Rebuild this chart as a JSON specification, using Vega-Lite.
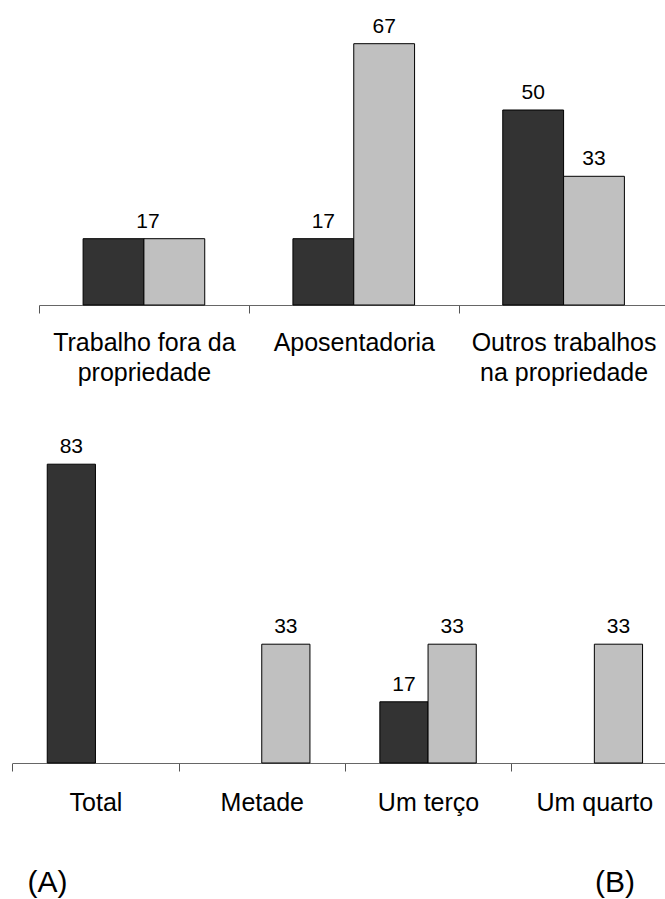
{
  "$schema": "https://vega.github.io/schema/vega-lite/v6.json",
  "width": 665,
  "height": 899,
  "padding": 0,
  "autosize": {"type": "none"},
  "background": "white",
  "config": {
    "view": {"stroke": null},
    "font": "Liberation Sans",
    "axis": {
      "domainColor": "#666666",
      "domainWidth": 1,
      "tickColor": "#555555",
      "tickWidth": 1,
      "tickSize": 8,
      "grid": false,
      "labelFont": "Liberation Sans",
      "labelFontSize": 25,
      "labelColor": "#000000",
      "labelAngle": 0,
      "labelOverlap": false,
      "labelLimit": 0,
      "labelLineHeight": 30,
      "title": null
    }
  },
  "datasets": {
    "fonte_renda": [
      {"categoria": "Trabalho fora da propriedade", "grupo": "Grupo 1", "valor": 17},
      {"categoria": "Trabalho fora da propriedade", "grupo": "Grupo 2", "valor": 17},
      {"categoria": "Aposentadoria", "grupo": "Grupo 1", "valor": 17},
      {"categoria": "Aposentadoria", "grupo": "Grupo 2", "valor": 67},
      {"categoria": "Outros trabalhos na propriedade", "grupo": "Grupo 1", "valor": 50},
      {"categoria": "Outros trabalhos na propriedade", "grupo": "Grupo 2", "valor": 33}
    ],
    "parcela": [
      {"categoria": "Total", "grupo": "Grupo 1", "valor": 83},
      {"categoria": "Metade", "grupo": "Grupo 2", "valor": 33},
      {"categoria": "Um terço", "grupo": "Grupo 1", "valor": 17},
      {"categoria": "Um terço", "grupo": "Grupo 2", "valor": 33},
      {"categoria": "Um quarto", "grupo": "Grupo 2", "valor": 33}
    ],
    "paineis": [
      {"painel": "(A)"},
      {"painel": "(B)"}
    ]
  },
  "layer": [
    {
      "data": {"name": "fonte_renda"},
      "transform": [
        {"joinaggregate": [{"op": "count", "as": "iguais"}], "groupby": ["categoria", "valor"]}
      ],
      "encoding": {
        "x": {
          "field": "categoria",
          "type": "nominal",
          "sort": null,
          "scale": {"range": [39, 668.5], "paddingInner": 0, "paddingOuter": 0},
          "axis": {
            "orient": "bottom",
            "offset": -594,
            "tickBand": "extent",
            "labelPadding": 17,
            "labelExpr": "datum.label == 'Trabalho fora da propriedade' ? ['Trabalho fora da', 'propriedade'] : datum.label == 'Outros trabalhos na propriedade' ? ['Outros trabalhos', 'na propriedade'] : datum.label"
          }
        },
        "y": {
          "field": "valor",
          "type": "quantitative",
          "scale": {"domain": [0, 70], "range": [305, 32], "nice": false, "zero": true},
          "axis": null
        }
      },
      "layer": [
        {
          "mark": {"type": "bar", "stroke": "#000000", "strokeWidth": 1},
          "encoding": {
            "xOffset": {
              "field": "grupo",
              "type": "nominal",
              "scale": {"domain": ["Grupo 1", "Grupo 2"], "paddingInner": 0, "paddingOuter": 0.725}
            },
            "color": {
              "field": "grupo",
              "type": "nominal",
              "scale": {"domain": ["Grupo 1", "Grupo 2"], "range": ["#333333", "#c0c0c0"]},
              "legend": null
            }
          }
        },
        {
          "transform": [{"filter": "datum.iguais == 1"}],
          "mark": {"type": "text", "baseline": "alphabetic", "dy": -11, "fontSize": 21, "font": "Liberation Sans", "color": "#000000"},
          "encoding": {
            "xOffset": {"field": "grupo", "type": "nominal"},
            "text": {"field": "valor", "type": "quantitative", "format": "d"}
          }
        },
        {
          "transform": [{"filter": "datum.iguais > 1 && datum.grupo == 'Grupo 1'"}],
          "mark": {"type": "text", "baseline": "alphabetic", "dy": -11, "dx": 4, "fontSize": 21, "font": "Liberation Sans", "color": "#000000"},
          "encoding": {
            "text": {"field": "valor", "type": "quantitative", "format": "d"}
          }
        }
      ]
    },
    {
      "data": {"name": "parcela"},
      "encoding": {
        "x": {
          "field": "categoria",
          "type": "nominal",
          "sort": ["Total", "Metade", "Um terço", "Um quarto"],
          "scale": {"range": [12.3, 677.5], "paddingInner": 0, "paddingOuter": 0},
          "axis": {
            "orient": "bottom",
            "offset": -136,
            "tickBand": "extent",
            "labelPadding": 19
          }
        },
        "xOffset": {
          "field": "grupo",
          "type": "nominal",
          "scale": {"domain": ["Grupo 1", "Grupo 2"], "paddingInner": 0, "paddingOuter": 0.725}
        },
        "y": {
          "field": "valor",
          "type": "quantitative",
          "scale": {"domain": [0, 90], "range": [763, 439], "nice": false, "zero": true},
          "axis": null
        }
      },
      "layer": [
        {
          "mark": {"type": "bar", "stroke": "#000000", "strokeWidth": 1},
          "encoding": {
            "color": {
              "field": "grupo",
              "type": "nominal",
              "scale": {"domain": ["Grupo 1", "Grupo 2"], "range": ["#333333", "#c0c0c0"]},
              "legend": null
            }
          }
        },
        {
          "mark": {"type": "text", "baseline": "alphabetic", "dy": -11, "fontSize": 21, "font": "Liberation Sans", "color": "#000000"},
          "encoding": {"text": {"field": "valor", "type": "quantitative", "format": "d"}}
        }
      ]
    },
    {
      "data": {"name": "paineis"},
      "mark": {"type": "text", "baseline": "alphabetic", "fontSize": 30, "font": "Liberation Sans", "color": "#000000"},
      "encoding": {
        "x": {
          "field": "painel",
          "type": "nominal",
          "scale": {"type": "point", "range": [47.5, 615], "padding": 0},
          "axis": null
        },
        "y": {
          "field": "painel",
          "type": "nominal",
          "scale": {"type": "point", "range": [892, 892], "padding": 0},
          "axis": null
        },
        "text": {"field": "painel", "type": "nominal"}
      }
    }
  ],
  "resolve": {
    "scale": {"x": "independent", "y": "independent", "xOffset": "independent"},
    "axis": {"x": "independent", "y": "independent"}
  }
}
